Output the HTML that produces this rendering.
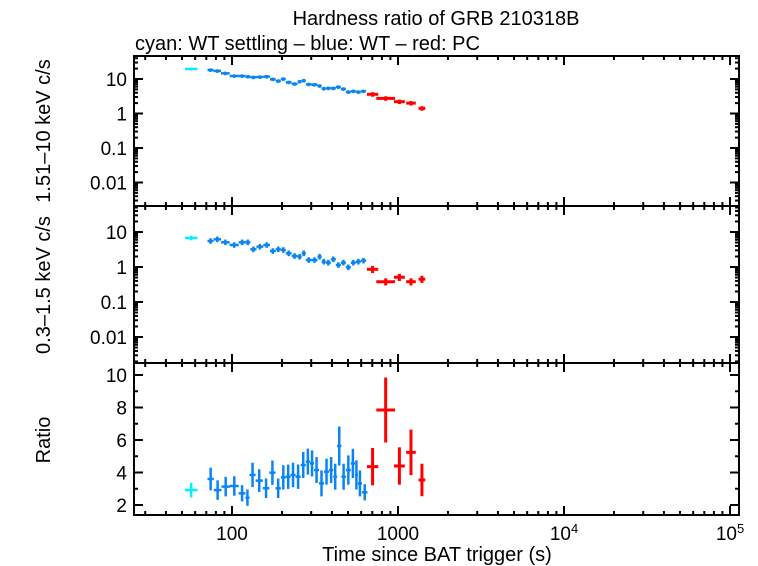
<!DOCTYPE html>
<html><head><meta charset="utf-8">
<style>
body{margin:0;background:#fff;}
svg{display:block;font-family:"Liberation Sans",sans-serif;}
</style></head>
<body>
<svg id="chart" width="758" height="566" viewBox="0 0 758 566" xmlns="http://www.w3.org/2000/svg">
<text x="436" y="25" font-size="20" text-anchor="middle">Hardness ratio of GRB 210318B</text>
<text x="135" y="50" font-size="20">cyan: WT settling – blue: WT – red: PC</text>
<text transform="translate(50,131) rotate(-90)" font-size="20" text-anchor="middle">1.51–10 keV c/s</text>
<text transform="translate(50,285) rotate(-90)" font-size="20" text-anchor="middle">0.3–1.5 keV c/s</text>
<text transform="translate(50,440) rotate(-90)" font-size="20" text-anchor="middle">Ratio</text>
<text x="437" y="561" font-size="20" text-anchor="middle">Time since BAT trigger (s)</text>
<g id="g"></g>
</svg>
<script>
// ---- data ----
const cyanT0 = [52]; const cyanT1 = [62];
const cyanHard = [19.5]; const cyanSoft = [6.8]; const cyanRatio = [2.92];
const blueT = [74,81,91,103,117,124,134,147,162,177,190,204,218,240,257,269,288,316,339,355,380,408,437,469,502,538,577,618];
const blueHard = [18.2,17.1,14.6,12.2,12.2,11.7,11.2,11.4,11.7,9.8,8.75,10,8.0,7.2,8.4,8.95,7.0,6.85,6.3,5.25,5.37,5.37,5.86,5.13,4.2,4.4,4.2,4.4];
const blueSoft = [5.53,6.17,5.07,4.25,5.07,5.07,3.2,3.81,4.25,2.86,3.2,3.06,2.46,2.06,1.97,2.46,1.58,1.58,1.97,1.42,1.33,1.66,1.14,1.33,0.98,1.33,1.42,1.52];
const ratioT = [74,81.5,91.6,103,117,124,131,147,160,176,190,204,218,233,250,269,288,302,323,346,371,398,417,443,469,502,538,563,584,630];
const ratioVal = [3.6,2.92,3.13,3.17,2.72,2.45,3.85,3.5,3.03,3.99,3.03,3.7,3.74,3.85,3.74,4.46,4.67,4.56,4.15,3.33,4.05,4.15,3.74,5.63,3.74,4.15,4.56,3.85,3.33,2.78];
const ratioErr = [0.7,0.6,0.6,0.6,0.5,0.5,0.75,0.7,0.6,0.75,0.6,0.75,0.75,0.75,0.75,0.8,0.8,0.8,0.8,0.8,0.8,0.8,0.8,1.2,0.8,0.9,0.9,0.9,0.8,0.5];
const redT0 = [650,740,945,1120,1330];
const redT = [700,843,1020,1197,1390];
const redT1 = [760,960,1100,1280,1460];
const redHard = [3.6,2.75,2.2,2.0,1.41];
const redSoft = [0.86,0.38,0.51,0.38,0.45];
const redRatio = [4.36,7.85,4.4,5.24,3.54];
const redRatioErr = [1.15,2.0,1.15,1.4,1.0];
const xTicks = [100,1000,10000,100000];
const logTicks = [10,1,0.1,0.01];
const logTickLabels = ["10","1","0.1","0.01"];
const ratioTicks = [2,4,6,8,10];

// ---- geometry ----
const X0=134, X1=739;
const xs = t => 232 + 166*(Math.log10(t)-2);
const panels = [
 {name:'hard', top:56, bot:206, y:v=>79-34.5*Math.log10(v/10), log:true},
 {name:'soft', top:206, bot:363, y:v=>232-35*Math.log10(v/10), log:true},
 {name:'ratio', top:363, bot:515, y:v=>375+16.25*(10-v), log:false}
];
const NS='http://www.w3.org/2000/svg';
const g=document.getElementById('g');
function el(tag, attrs, parent){const e=document.createElementNS(NS,tag);for(const k in attrs)e.setAttribute(k,attrs[k]);(parent||g).appendChild(e);return e;}
function line(x1,y1,x2,y2,c,w,p){return el('line',{x1,y1,x2,y2,stroke:c,'stroke-width':w},p);}

panels.forEach(p=>{
  const pg=el('g',{});
  
  
  for(let d=1;d<=5;d++){for(let m=1;m<10;m++){const t=m*Math.pow(10,d);const x=xs(t);if(x<X0||x>X1)continue;const L=m==1?9:4;
    line(x,p.bot,x,p.bot-L,'#000',2,pg);line(x,p.top,x,p.top+L,'#000',2,pg);}}
  if(p.log){for(let d=-3;d<=2;d++){for(let m=1;m<10;m++){const v=m*Math.pow(10,d);const y=p.y(v);if(y<p.top||y>p.bot)continue;const L=m==1?9:4;
    line(X0,y,X0+L,y,'#000',2,pg);line(X1,y,X1-L,y,'#000',2,pg);}}
    logTicks.forEach((v,i)=>{const t=el('text',{x:127,y:p.y(v)+7,'font-size':19,'text-anchor':'end'},pg);t.textContent=logTickLabels[i];
      
      });
  } else {
    for(let v=2;v<=10;v+=1){const y=p.y(v);const L=v%2==0?9:4;line(X0,y,X0+L,y,'#000',2,pg);line(X1,y,X1-L,y,'#000',2,pg);}
    ratioTicks.forEach(v=>{const t=el('text',{x:127,y:p.y(v)+7,'font-size':19,'text-anchor':'end'},pg);t.textContent=String(v);
      
      });
  }
  el('rect',{x:X0,y:p.top,width:X1-X0,height:p.bot-p.top,fill:'none',stroke:'#000','stroke-width':2},pg);
});
xTicks.forEach(v=>{const x=xs(v);const t=el('text',{x:x,y:540,'font-size':19,'text-anchor':'middle'});
  
  
  if(v<=1000)t.textContent=String(v);else{t.textContent='10';const s=el('tspan',{'font-size':13,dy:-7},t);s.textContent=String(Math.round(Math.log10(v)));}
});

function cross(p,t0,t1,v,lo,hi,c,w,name){
  const cg=el('g',{});
  
  
  line(xs(t0),p.y(v),xs(t1),p.y(v),c,w,cg);
  line(xs(Math.sqrt(t0*t1)),p.y(lo),xs(Math.sqrt(t0*t1)),p.y(hi),c,w,cg);
}
const blue='#0a84f4', cyan='#00f0ff', red='#ff0000';
function bounds(arr,i){const t=arr[i];const prev=i>0?arr[i-1]:t/1.08;const next=i<arr.length-1?arr[i+1]:t*1.08;return [Math.sqrt(prev*t),Math.sqrt(t*next)];}
cross(panels[0],cyanT0[0],cyanT1[0],cyanHard[0],cyanHard[0]*0.9,cyanHard[0]*1.1,cyan,2.5,'cyan-point');
cross(panels[1],cyanT0[0],cyanT1[0],cyanSoft[0],cyanSoft[0]*0.85,cyanSoft[0]*1.15,cyan,2.5,'cyan-point');
cross(panels[2],cyanT0[0],cyanT1[0],cyanRatio[0],cyanRatio[0]-0.45,cyanRatio[0]+0.45,cyan,2.5,'cyan-point');
blueT.forEach((t,i)=>{const [a,b]=bounds(blueT,i);
  cross(panels[0],a,b,blueHard[i],blueHard[i]*0.88,blueHard[i]*1.12,blue,2.5,'blue-hard-point');
  cross(panels[1],a,b,blueSoft[i],blueSoft[i]*0.83,blueSoft[i]*1.2,blue,2.5,'blue-soft-point');
});
ratioT.forEach((t,i)=>{const [a,b]=bounds(ratioT,i);
  cross(panels[2],a,b,ratioVal[i],ratioVal[i]-ratioErr[i],ratioVal[i]+ratioErr[i],blue,2.5,'blue-ratio-point');});
redT.forEach((t,i)=>{
  cross(panels[0],redT0[i],redT1[i],redHard[i],redHard[i]*0.85,redHard[i]*1.15,red,3,'red-hard-point');
  cross(panels[1],redT0[i],redT1[i],redSoft[i],redSoft[i]*0.78,redSoft[i]*1.25,red,3,'red-soft-point');
  cross(panels[2],redT0[i],redT1[i],redRatio[i],redRatio[i]-redRatioErr[i],redRatio[i]+redRatioErr[i],red,3,'red-ratio-point');
});
</script>
</body></html>
